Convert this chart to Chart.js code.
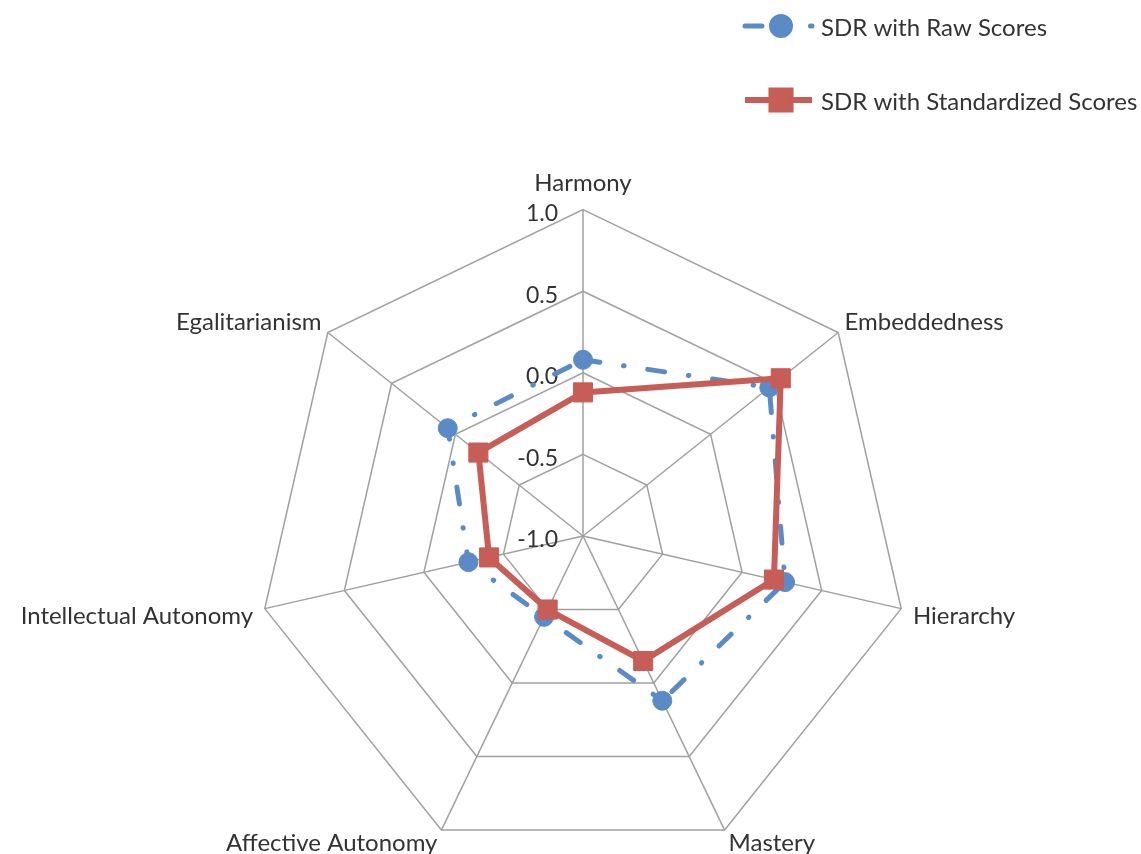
<!DOCTYPE html>
<html>
<head>
<meta charset="utf-8">
<script src="https://cdn.jsdelivr.net/npm/chart.js@4"></script>
<style>
  html, body { margin: 0; padding: 0; background: #fff; overflow: hidden; }
  canvas { display: block; }
</style>
</head>
<body>
<canvas id="radarChart" width="1147" height="880"></canvas>
<script>
const ctxRadar = document.getElementById("radarChart");

const labels = [
  "Harmony",
  "Embeddedness",
  "Hierarchy",
  "Mastery",
  "Affective Autonomy",
  "Intellectual Autonomy",
  "Egalitarianism",
];
const rawScores = [0.08, 0.46, 0.27, 0.12, -0.45, -0.28, 0.06];
const standardizedScores = [-0.12, 0.55, 0.2, -0.15, -0.5, -0.41, -0.18];
const tickValues = [-1.0, -0.5, 0.0, 0.5, 1.0];

const TEXT_COLOR = "#333333";
const BLUE = "#5a8bc6";
const RED = "#c65d57";
const FONT = "Lato";

// tick labels sit to the left of the vertical axis, like Excel does it
const tickLabelPlugin = {
  id: "tickLabels",
  beforeDatasetsDraw(chart) {
    const r = chart.scales.r;
    const ctx = chart.ctx;
    ctx.save();
    ctx.font = "23px " + FONT;
    ctx.fillStyle = TEXT_COLOR;
    ctx.textAlign = "right";
    ctx.textBaseline = "middle";
    tickValues.forEach((v) => {
      const d = r.getDistanceFromCenterForValue(v);
      ctx.fillText(v.toFixed(1), r.xCenter - 25, r.yCenter - d + 4);
    });
    ctx.restore();
  },
};

// legend with line + marker, stacked in the top right corner
const lineLegendPlugin = {
  id: "lineLegend",
  afterDraw(chart) {
    const ctx = chart.ctx;
    const x0 = 745;
    const x1 = 812;
    chart.data.datasets.forEach((ds, i) => {
      const y = 26 + i * 74;
      ctx.save();
      ctx.strokeStyle = ds.borderColor;
      ctx.lineWidth = ds.borderWidth;
      ctx.lineCap = ds.borderCapStyle || "butt";
      ctx.setLineDash(ds.borderDash || []);
      ctx.beginPath();
      ctx.moveTo(x0, y);
      ctx.lineTo(x1, y);
      ctx.stroke();
      ctx.setLineDash([]);
      Chart.helpers.drawPoint(
        ctx,
        {
          pointStyle: ds.pointStyle,
          radius: ds.pointRadius,
          borderWidth: ds.pointBorderWidth,
        },
        781,
        y
      );
      ctx.fillStyle = ds.pointBackgroundColor;
      ctx.strokeStyle = ds.pointBorderColor;
      ctx.lineWidth = ds.pointBorderWidth;
      ctx.fill();
      ctx.stroke();
      ctx.font = "24px " + FONT;
      ctx.fillStyle = TEXT_COLOR;
      ctx.textAlign = "left";
      ctx.textBaseline = "middle";
      ctx.fillText(ds.label, 821, y + 2);
      ctx.restore();
    });
  },
};

const dataRadar = {
  labels: labels,
  datasets: [
    {
      label: "SDR with Raw Scores",
      data: rawScores,
      borderColor: BLUE,
      backgroundColor: BLUE,
      borderWidth: 5,
      borderDash: [17, 24, 0.5, 24],
      borderCapStyle: "round",
      pointStyle: "circle",
      pointRadius: 9.5,
      pointBorderWidth: 1,
      pointBackgroundColor: BLUE,
      pointBorderColor: BLUE,
      fill: false,
      order: 2,
    },
    {
      label: "SDR with Standardized Scores",
      data: standardizedScores,
      borderColor: RED,
      backgroundColor: RED,
      borderWidth: 6,
      pointStyle: "rect",
      pointRadius: 13.5,
      pointBorderWidth: 1,
      pointBackgroundColor: RED,
      pointBorderColor: RED,
      fill: false,
      order: 1,
    },
  ],
};

// per-label gap between the outer ring and its text
const labelPadding = [22, 8, 12, 9, 9, 12, 8];

const radarChart = new Chart(ctxRadar, {
  type: "radar",
  data: dataRadar,
  plugins: [tickLabelPlugin, lineLegendPlugin],
  options: {
    responsive: false,
    animation: false,
    layout: {
      padding: { top: 163, bottom: 1, left: 0, right: 0 },
    },
    elements: {
      line: { tension: 0 },
    },
    scales: {
      r: {
        min: tickValues[0],
        max: tickValues[tickValues.length - 1],
        ticks: { display: false, stepSize: 0.5 },
        grid: { color: "#a0a0a0", lineWidth: 1.5 },
        angleLines: { color: "#a0a0a0", lineWidth: 1.5 },
        pointLabels: {
          color: TEXT_COLOR,
          font: { family: FONT, size: 24, lineHeight: 0.4 },
          padding: (c) => labelPadding[c.index],
        },
      },
    },
    plugins: {
      legend: { display: false },
      tooltip: { enabled: false },
    },
  },
});
</script>
</body>
</html>
